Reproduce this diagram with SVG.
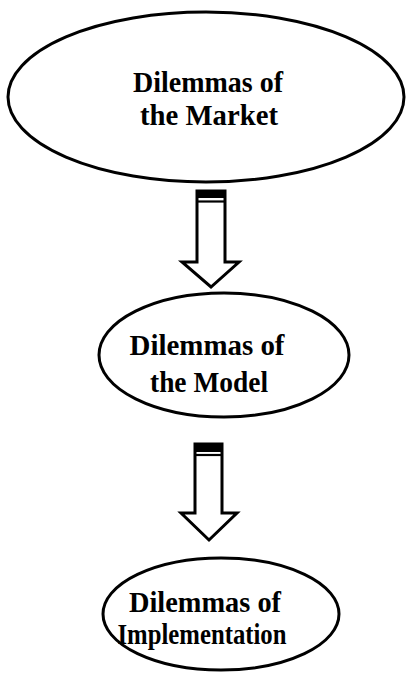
<svg xmlns="http://www.w3.org/2000/svg" width="408" height="675" viewBox="0 0 408 675">
<style>
.node{fill:#fff;stroke:#000;stroke-width:3}
.lbl{font-family:'Liberation Serif','DejaVu Serif','Times New Roman',serif;font-size:29px;font-weight:bold;fill:#000;text-anchor:middle}
.arr{fill:#fff;stroke:#000;stroke-width:3;stroke-linejoin:miter}
</style>
<rect width="408" height="675" fill="#fff"/>
<g id="connectors">
<g id="arrow1">
<polygon class="arr" points="197,191 225,191 225,262 239,262 211,287 182,262 197,262"/>
<rect x="197" y="190" width="28" height="8" fill="#000"/>
<line x1="197" y1="201.5" x2="225" y2="201.5" stroke="#000" stroke-width="2.2"/>
</g>
<g id="arrow2">
<polygon class="arr" points="195,444 222,444 222,513 237,513 209,540 181,513 195,513"/>
<rect x="195" y="443" width="27" height="9" fill="#000"/>
<line x1="195" y1="455" x2="222" y2="455" stroke="#000" stroke-width="2.2"/>
</g>
</g>
<g id="node-market">
<ellipse class="node" cx="206" cy="97" rx="198" ry="85"/>
<text class="lbl" x="208" y="92" textLength="150" lengthAdjust="spacingAndGlyphs">Dilemmas of</text>
<text class="lbl" x="209" y="125" textLength="138" lengthAdjust="spacingAndGlyphs">the Market</text>
</g>
<g id="node-model">
<ellipse class="node" cx="224" cy="355" rx="125" ry="62"/>
<text class="lbl" x="207" y="355" textLength="155" lengthAdjust="spacingAndGlyphs">Dilemmas of</text>
<text class="lbl" x="209" y="392" textLength="118" lengthAdjust="spacingAndGlyphs">the Model</text>
</g>
<g id="node-implementation">
<ellipse class="node" cx="221" cy="614" rx="118" ry="56"/>
<text class="lbl" x="205" y="612" textLength="152" lengthAdjust="spacingAndGlyphs">Dilemmas of</text>
<text class="lbl" x="202" y="644" textLength="169" lengthAdjust="spacingAndGlyphs">Implementation</text>
</g>
</svg>
